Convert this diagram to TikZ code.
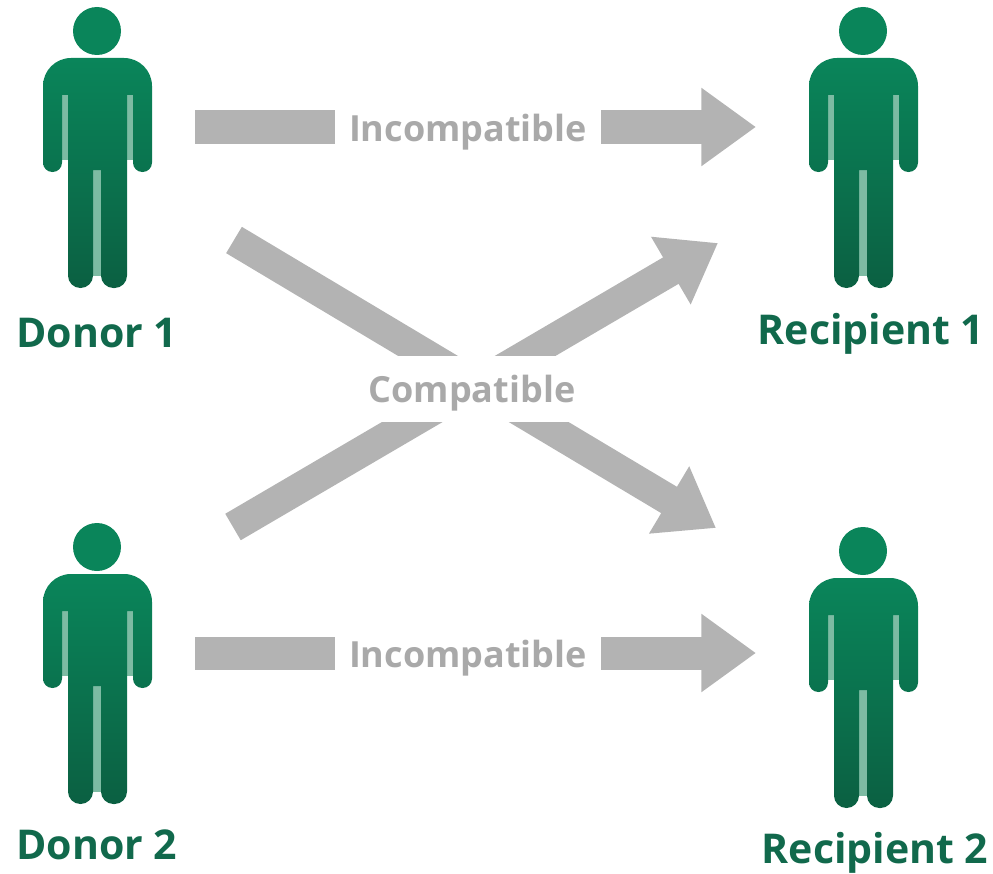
\documentclass[tikz,border=0pt]{standalone}
\usepackage{fontspec}
\setmainfont{Open Sans}
\usetikzlibrary{arrows.meta}
\definecolor{mangreen}{HTML}{0A855A}
\definecolor{mandark}{HTML}{0B6042}
\definecolor{mangap}{HTML}{7DBBA3}
\definecolor{labelgreen}{HTML}{11694C}
\definecolor{arrowgrey}{HTML}{B3B3B3}
\definecolor{textgrey}{HTML}{A9A9A9}
\tikzset{
	bigarrow/.style={draw=arrowgrey, line width=24.75pt, -{Triangle[length=41pt,width=56pt,fill=arrowgrey]}},
	slantarrow/.style={draw=arrowgrey, line width=23pt, -{Triangle[length=41pt,width=56pt,fill=arrowgrey]}},
	arrowlabel/.style={fill=white, text=textgrey, font=\bfseries\fontsize{27pt}{32pt}\selectfont, inner sep=0pt},
	personlabel/.style={text=labelgreen, font=\bfseries\fontsize{30.8pt}{36pt}\selectfont, inner sep=0pt}
}
% #1 = centre of the head
\def\person(#1,#2){
	\begin{scope}[shift={(#1-97,#2-31)}]
		\fill[mangreen] (97, 31) circle (18pt);
		\fill[mangap] (62, 95) rectangle (68, 160);
		\fill[mangap] (127, 95) rectangle (133, 160);
		\fill[mangap] (93, 170) rectangle (101, 276);
		\shade[top color=mangreen, bottom color=mandark]
			(62, 95) [rounded corners=7pt] -- (62, 172) -- (43, 172)
			[rounded corners=21pt] -- (43, 58) -- (152, 58)
			[rounded corners=7pt] -- (152, 172) -- (133, 172)
			[sharp corners] -- (133, 95) -- (127, 95)
			[rounded corners=9.3pt] -- (127, 288) -- (101, 288)
			[sharp corners] -- (101, 170) -- (93, 170)
			[rounded corners=9.3pt] -- (93, 288) -- (68, 288)
			[sharp corners] -- (68, 95) -- cycle;
	\end{scope}
}

\begin{document}
\begin{tikzpicture}[x=0.75pt, y=-0.75pt]
	\useasboundingbox (0, 0) rectangle (993, 874);
	
	\person(97, 31)
	\person(863, 31)
	\person(97, 547)
	\person(863, 551)
	
	\coordinate (donorAout) at (195, 127);
	\coordinate (recipAin) at (756, 127);
	\coordinate (donorBout) at (195, 653);
	\coordinate (recipBin) at (756, 653);
	\coordinate (donorAcross) at (234, 240);
	\coordinate (recipBcross) at (716, 528);
	\coordinate (donorBcross) at (233, 527);
	\coordinate (recipAcross) at (718, 243);
	
	\draw[bigarrow] (donorAout) -- (recipAin);
	\draw[bigarrow] (donorBout) -- (recipBin);
	\draw[slantarrow] (donorAcross) -- (recipBcross);
	\draw[slantarrow] (donorBcross) -- (recipAcross);
	
	\node[arrowlabel, minimum width=200pt, text height=25pt, text depth=3pt] (topLabel) at (468, 127) {Incompatible};
	\node[arrowlabel, minimum width=200pt, text height=25pt, text depth=3pt] (bottomLabel) at (468, 653) {Incompatible};
	\node[arrowlabel, minimum width=190pt, text height=34.5pt, text depth=14.5pt] (crossLabel) at (472, 389) {Compatible};
	
	\node[personlabel] (donorA) at (97, 333) {Donor 1};
	\node[personlabel] (recipA) at (871, 334) {Recipient 1};
	\node[personlabel] (donorB) at (97, 845) {Donor 2};
	\node[personlabel] (recipB) at (875, 853) {Recipient 2};
\end{tikzpicture}
\end{document}
